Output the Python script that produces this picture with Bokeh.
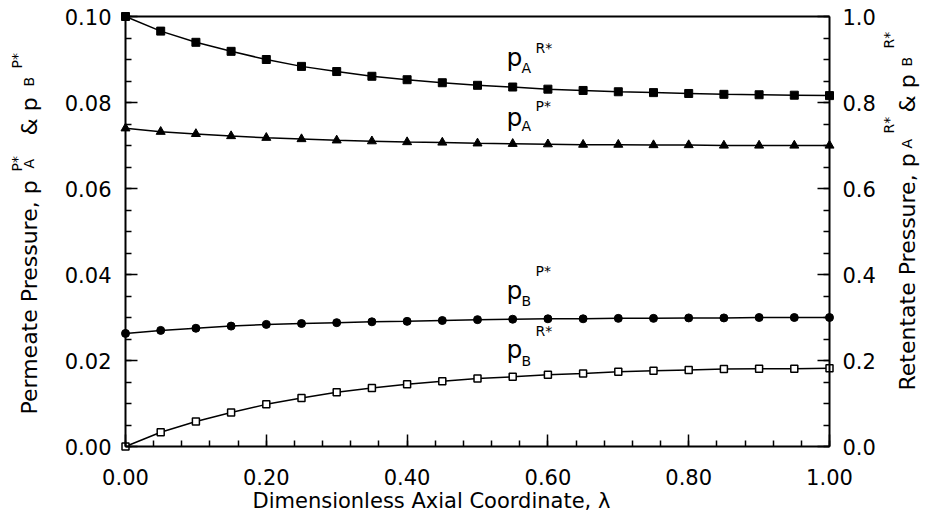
import numpy as np
from bokeh.plotting import figure
from bokeh.models import Range1d, LinearAxis, FixedTicker, PrintfTickFormatter, Label
from bokeh.embed import file_html
from bokeh.resources import INLINE

# ---- data ----
lam = [0.00, 0.05, 0.10, 0.15, 0.20, 0.25, 0.30, 0.35, 0.40, 0.45, 0.50,
       0.55, 0.60, 0.65, 0.70, 0.75, 0.80, 0.85, 0.90, 0.95, 1.00]
# retentate (right axis)
pA_R = [1.000, 0.966, 0.940, 0.919, 0.900, 0.884, 0.872, 0.861, 0.853, 0.846, 0.840,
        0.836, 0.831, 0.828, 0.825, 0.823, 0.821, 0.819, 0.818, 0.817, 0.816]
pB_R = [0.000, 0.033, 0.058, 0.079, 0.098, 0.113, 0.126, 0.136, 0.145, 0.152, 0.158,
        0.162, 0.167, 0.170, 0.174, 0.176, 0.178, 0.180, 0.181, 0.181, 0.182]
# permeate (left axis)
pA_P = [0.0740, 0.0732, 0.0727, 0.0722, 0.0718, 0.0715, 0.0712, 0.0710, 0.0708, 0.0707, 0.0705,
        0.0704, 0.0703, 0.0702, 0.0702, 0.0701, 0.0701, 0.0700, 0.0700, 0.0700, 0.0700]
pB_P = [0.0263, 0.0270, 0.0275, 0.0280, 0.0284, 0.0286, 0.0288, 0.0290, 0.0291, 0.0293, 0.0295,
        0.0296, 0.0297, 0.0297, 0.0298, 0.0298, 0.0299, 0.0299, 0.0300, 0.0300, 0.0300]

x_ticks = [0.0, 0.2, 0.4, 0.6, 0.8, 1.0]
x_minor = [i * 0.04 for i in range(26)]
yl_ticks = [0.0, 0.02, 0.04, 0.06, 0.08, 0.10]
yl_minor = [i * 0.005 for i in range(21)]
yr_ticks = [0.0, 0.2, 0.4, 0.6, 0.8, 1.0]
yr_minor = [i * 0.05 for i in range(21)]

FONT = "DejaVu Sans"

# canvas geometry (pixels): plot box from x=125..829, y=16..446 in a 920x525 canvas
W, H = 920, 525
L, R, T, B = 125, 829, 16, 446
XMIN, XMAX = 0.0, 1.0
YMIN, YMAX = 0.0, 0.1
sx = (XMAX - XMIN) / (R - L)
sy = (YMAX - YMIN) / (B - T)
x_rng = Range1d(XMIN - L * sx, XMAX + (W - R) * sx)
y_rng = Range1d(YMIN - (H - B) * sy, YMAX + T * sy)
y_rng_r = Range1d(y_rng.start * 10, y_rng.end * 10)

p = figure(width=W, height=H, output_backend="svg", toolbar_location=None,
           x_range=x_rng, y_range=y_rng,
           min_border=0, min_border_left=0, min_border_right=0,
           min_border_top=0, min_border_bottom=0,
           background_fill_color="white", border_fill_color="white",
           x_axis_location=None, y_axis_location=None)
p.extra_y_ranges = {"right": y_rng_r}
p.grid.visible = False
p.outline_line_color = None

ax_bottom = LinearAxis(fixed_location=YMIN, bounds=(XMIN, XMAX))
ax_left = LinearAxis(fixed_location=XMIN, bounds=(YMIN, YMAX))
ax_right = LinearAxis(fixed_location=XMAX, bounds=(0.0, 1.0), y_range_name="right")
ax_top = LinearAxis(fixed_location=YMAX, bounds=(XMIN, XMAX))
p.add_layout(ax_bottom, "below")
p.add_layout(ax_left, "left")
p.add_layout(ax_right, "right")
p.add_layout(ax_top, "above")

ax_bottom.ticker = FixedTicker(ticks=x_ticks, minor_ticks=x_minor)
ax_bottom.formatter = PrintfTickFormatter(format="%.2f")
ax_left.ticker = FixedTicker(ticks=yl_ticks, minor_ticks=yl_minor)
ax_left.formatter = PrintfTickFormatter(format="%.2f")
ax_right.ticker = FixedTicker(ticks=yr_ticks, minor_ticks=yr_minor)
ax_right.formatter = PrintfTickFormatter(format="%.1f")
ax_top.ticker = FixedTicker(ticks=[], minor_ticks=[])
ax_top.major_label_text_font_size = "0px"

for ax in [ax_bottom, ax_left, ax_right, ax_top]:
    ax.axis_line_width = 2
    ax.axis_line_color = "black"
    ax.major_tick_in = 12
    ax.major_tick_out = 0
    ax.minor_tick_in = 6
    ax.minor_tick_out = 0
    ax.major_tick_line_width = 1.5
    ax.minor_tick_line_width = 1.5
    ax.major_tick_line_color = "black"
    ax.minor_tick_line_color = "black"
    ax.major_label_text_font = FONT
    ax.major_label_text_color = "black"
    ax.axis_label = None
for ax in [ax_bottom, ax_left, ax_right]:
    ax.major_label_text_font_size = "21px"
ax_bottom.major_label_standoff = 22
ax_left.major_label_standoff = 14
ax_right.major_label_standoff = 13

# ---- curves ----
p.line(lam, pA_R, y_range_name="right", line_color="black", line_width=1.5)
p.scatter(lam, pA_R, y_range_name="right", marker="square", size=8,
          fill_color="black", line_color="black")
p.line(lam, pA_P, line_color="black", line_width=1.5)
p.scatter(lam, pA_P, marker="triangle", size=9, fill_color="black", line_color="black")
p.line(lam, pB_P, line_color="black", line_width=1.5)
p.scatter(lam, pB_P, marker="circle", size=8, fill_color="black", line_color="black")
p.line(lam, pB_R, y_range_name="right", line_color="black", line_width=1.5)
p.scatter(lam, pB_R, y_range_name="right", marker="square", size=7,
          fill_color="white", line_color="black", line_width=1.5)

# ---- text helpers (canvas pixel -> data coords of left axis) ----
def fx(px):
    return XMIN + (px - L) * sx

def fy(py):
    return YMIN + (B - py) * sy

K = 0.33  # baseline correction (fraction of font size)

def lab(txt, px, py, fs, rotated=False):
    if rotated:
        px = px - K * fs
        ang = np.pi / 2
    else:
        py = py - K * fs
        ang = 0.0
    p.add_layout(Label(x=fx(px), y=fy(py), text=txt, text_font=FONT,
                       text_font_size=f"{fs}px", text_color="black", angle=ang,
                       text_align="left", text_baseline="alphabetic"))

# in-chart labels
for (sub, sup, yb, ysub, ysup) in [
        ("A", "R*", 65.7, 71.7, 51.7),
        ("A", "P*", 125.0, 130.5, 110.0),
        ("B", "P*", 298.3, 305.0, 275.0),
        ("B", "R*", 357.0, 365.0, 335.0)]:
    lab("p", 506, yb, 25)
    lab(sub, 521, ysub, 14)
    lab(sup, 535, ysup, 14)

# bottom axis title
lab("Dimensionless Axial Coordinate, \u03bb", 252, 507, 21)

# left axis title (reads upward)
lab("Permeate Pressure, p", 36, 414, 22, True)
lab("A", 33, 168, 14, True)
lab("P*", 21, 171, 14, True)
lab("& p", 36, 135, 22, True)
lab("B", 33, 86, 14, True)
lab("P*", 21, 68, 14, True)

# right axis title (reads upward)
lab("Retentate Pressure, p", 914, 390, 22, True)
lab("A", 911, 148, 14, True)
lab("R*", 893, 133, 14, True)
lab("& p", 914, 112, 22, True)
lab("B", 911, 66, 14, True)
lab("R*", 893, 48, 14, True)

open("out.html", "w").write(file_html(p, INLINE))
